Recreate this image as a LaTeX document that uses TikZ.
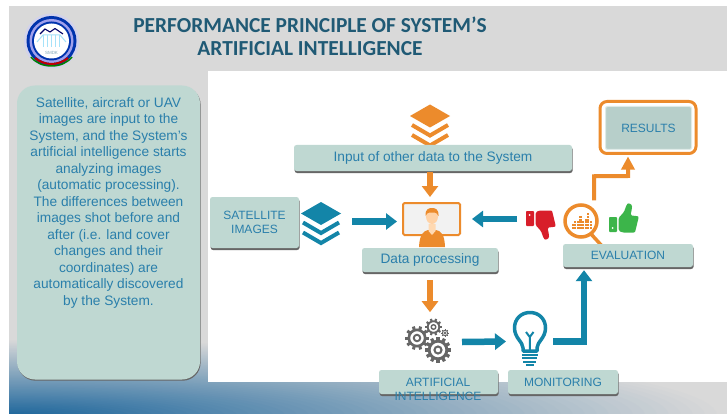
\documentclass[tikz,border=0pt]{standalone}
\usepackage{fontspec}
\setmainfont{Liberation Sans}
\newfontfamily\titlefont{Carlito}
\usetikzlibrary{arrows.meta,shadows,calc}
\definecolor{slidegray}{HTML}{D9D9D9}
\definecolor{boxfill}{HTML}{BFD8D2}
\definecolor{tealc}{HTML}{1385A8}
\definecolor{orangec}{HTML}{EC8B2C}
\definecolor{txtc}{HTML}{2A7FAB}
\definecolor{titlec}{HTML}{205A75}
\definecolor{gearc}{HTML}{666666}
\definecolor{redc}{HTML}{D81E2A}
\definecolor{greenc}{HTML}{3CB54A}
\definecolor{bluec}{HTML}{1C659B}
\tikzset{
  card/.style={draw=none,fill=boxfill,rounded corners=2.5pt,align=center,text=txtc,font=\fontsize{12}{14}\selectfont,inner sep=0pt,
    general shadow={fill=black!60,shadow xshift=0.6pt,shadow yshift=-2pt}},
  sentence/.style={font=\fontsize{13.7}{15}\selectfont},
  tealarrow/.style={draw=tealc,line width=6.5pt,-{Triangle[length=11pt,width=16pt]}},
  orangearrow/.style={draw=orangec,line width=6.5pt,-{Triangle[length=11pt,width=16pt]}},
  slim/.style={draw=orangec,line width=4pt,-{Triangle[length=13pt,width=13pt]}},
}
\newcommand{\layericon}[3]{% x, y of top-diamond centre, colour
  \begin{scope}[shift={(#1,#2)}]
    \fill[#3] (-20,0) -- (0,-11.5) -- (20,0) -- (0,11.5) -- cycle;
    \draw[#3,line width=4pt,miter limit=3] (-18,9) -- (0,19.5) -- (18,9);
    \draw[#3,line width=4pt,miter limit=3] (-18,19) -- (0,29.5) -- (18,19);
  \end{scope}}
\newcommand{\gearicon}[4]{% x, y, radius, teeth
  \begin{scope}[shift={(#1,#2)}]
    \pgfmathsetmacro{\stepang}{360/#4}
    \foreach \k in {1,...,#4}{
      \draw[gearc,line width=0.25*#3 pt] ({\k*\stepang}:0.6*#3) -- ({\k*\stepang}:#3);
    }
    \draw[gearc,fill=white,line width=0.22*#3 pt] (0,0) circle ({0.68*#3});
    \draw[gearc,fill=white,line width=0.16*#3 pt] (0,0) circle ({0.27*#3});
  \end{scope}}
\newcommand{\thumbicon}[1]{%
  \fill[#1,rounded corners=0.8pt] (609,217) rectangle (617,232);
  \fill[#1,rounded corners=1.5pt] (618.5,218) -- (624,212) -- (626.5,205) .. controls (628,203) and (632,203.5) .. (632,208) -- (630.5,215.5) -- (636.5,216) .. controls (638.5,216.5) and (638.5,218) .. (638,220) -- (635.5,230.5) .. controls (635,232) and (634,232.5) .. (632,232.5) -- (622,232.5) -- (618.5,230.5) -- cycle;
  \fill[white] (612.5,228) circle (1pt);
}
\begin{document}
\begin{tikzpicture}[x=1pt,y=-1pt]
\useasboundingbox (0,0) rectangle (727,414);
\fill[white] (0,0) rectangle (727,414);
% slide background with a glow from the lower left corner
\fill[slidegray] (9,6) rectangle (727,414);
\begin{scope}
  \clip (9,6) rectangle (727,414);
  \foreach \i in {60,59,...,1}{
    \pgfmathsetmacro{\mixv}{100-100*\i/60}
    \fill[bluec!\mixv!slidegray] (9,416) ellipse ({\i*12} and {\i*1.28});
  }
\end{scope}
\fill[white] (208,71) rectangle (727,382);
% title
\node[font=\titlefont\bfseries\fontsize{21.4}{23.5}\selectfont,text=titlec,align=center,inner sep=0pt] (title) at (310,36.5) {PERFORMANCE PRINCIPLE OF SYSTEM’S\\ARTIFICIAL INTELLIGENCE};
% logo
\fill[blue!12!white!85!gray] (51.5,41) circle (27.5);
\fill[blue!60!black!80!cyan] (51.5,41) circle (25);
\fill[blue!35!white!85!gray] (51.5,41) circle (22);
\fill[blue!60!black!80!cyan] (51.5,41) circle (19.5);
\fill[white] (51.5,41) circle (17.5);
\draw[line width=1.5pt,green!50!black] (31,57) .. controls (36,63) and (43,66) .. (51.5,66) .. controls (60,66) and (67,63) .. (72,57);
\draw[line width=2pt,red!75!black] (35,58) .. controls (40,62) and (46,64) .. (51.5,64) .. controls (57,64) and (63,62) .. (68,58);
\foreach \dx in {-8,-4,0,4,8}{\draw[cyan!35!white,line width=1pt] ({51.5+\dx},35) -- ({51.5+\dx},47);}
\draw[cyan!35!white,line width=1pt] (37,42) -- (43,35) -- (60,35) -- (66,42);
\draw[blue!40!black,line width=1.1pt] (40,34) -- (45,29) -- (50,32) -- (55,28.5) -- (63,34);
\node[font=\fontsize{4.5}{5}\selectfont,text=cyan!50!black!60!white,inner sep=0pt] (logotext) at (51.5,53) {SMDK};
% left panel
\node[draw=none,fill=boxfill,rounded corners=18pt,minimum width=183pt,minimum height=294pt,inner sep=0pt,
  general shadow={fill=black!60,shadow xshift=0.6pt,shadow yshift=-1.2pt}] (panel) at (108.5,232.5) {};
\node[text=txtc,align=center,inner sep=0pt,font=\fontsize{13.7}{16.5}\selectfont] (paneltext) at (108.5,202.5)
 {Satellite, aircraft or UAV\\images are input to the\\System, and the System’s\\artificial intelligence starts\\analyzing images\\(automatic processing).\\The differences between\\images shot before and\\after (i.e. land cover\\changes and their\\coordinates) are\\automatically discovered\\by the System.};
% layers
\layericon{430}{116}{orangec}
\layericon{321}{213.5}{tealc}
% boxes
\node[card,sentence,minimum width=278pt,minimum height=26pt] (input) at (433,158) {Input of other data to the System};
\node[card,minimum width=89pt,minimum height=51pt] (sat) at (254.5,222.5) {SATELLITE\\IMAGES};
\node[coordinate] (satlayers) at (340,221.5) {};
% monitor and person
\node[draw=orangec,line width=2pt,fill=black!5,rounded corners=1.5pt,minimum width=57pt,minimum height=32pt,inner sep=0pt] (monitor) at (431.5,219) {};
\fill[orangec] (419,247) .. controls (419.5,234) and (424,231) .. (428,230) -- (436,230) .. controls (441,231) and (444.5,234) .. (445,247) -- cycle;
\fill[orange!30!white] (428.5,224) -- (435.5,224) -- (435.5,231) -- (432,235) -- (428.5,231) -- cycle;
\fill[orange!35!white] (432,216.5) ellipse (6 and 7.5);
\fill[orangec] (425.5,216) .. controls (425,209) and (429,208) .. (432,208) .. controls (435,208) and (439,209) .. (438.5,216) .. controls (437.5,213) and (436,212.5) .. (432,212.5) .. controls (428,212.5) and (426.5,213) .. (425.5,216) -- cycle;
\node[card,sentence,minimum width=136pt,minimum height=24pt] (proc) at (430,260) {Data processing};
% gears
\gearicon{417}{338}{12}{10}
\gearicon{433.5}{327}{8.5}{10}
\gearicon{445}{333}{4}{8}
\gearicon{438}{350}{13}{12}
\node[coordinate] (gears) at (455,342) {};
% bulb
\draw[tealc,fill=white,line width=3.5pt,line join=round] (523,351) -- (523,348) .. controls (523,342) and (514.5,338) .. (514.5,328) .. controls (514.5,319) and (521,312.5) .. (530,312.5) .. controls (539,312.5) and (545.5,319) .. (545.5,328) .. controls (545.5,338) and (537,342) .. (537,348) -- (537,351) -- cycle;
\draw[tealc,line width=2pt] (529.8,350) -- (529.8,337) -- (526,332) (529.8,337) -- (533.5,332);
\foreach \yy/\hw in {354.5/8,358/7.5,361.5/6.5,365/4}{\draw[tealc,line width=2pt] ({529.8-\hw},\yy) -- ({529.8+\hw},\yy);}
\node[coordinate] (bulb) at (553,341.5) {};
\node[coordinate] (bulbleft) at (506,341.5) {};
% lower boxes
\node[card,minimum width=119pt,minimum height=24pt] (ai) at (438.5,382) {};
\node[text=txtc,align=center,inner sep=0pt,font=\fontsize{12}{14}\selectfont] (ailabel) at (438,389) {ARTIFICIAL\\INTELLIGENCE};
\node[card,minimum width=110pt,minimum height=24pt] (mon) at (563,382) {MONITORING};
% evaluation
\draw[orangec,line width=3.5pt] (591,234) -- (602,246);
\node[card,minimum width=130pt,minimum height=23pt] (eval) at (628,255.5) {EVALUATION};
\node[circle,draw=orangec,line width=3.5pt,fill=white,minimum size=32pt,inner sep=0pt] (lens) at (581,221) {};
\foreach \i/\n in {0/2,1/3,2/3,3/5,4/3,5/4,6/6,7/3}{
  \foreach \j in {1,...,\n}{
    \fill[orangec] ({571.6+\i*2.6},{229.3-\j*2.7}) rectangle ++(2.1,2.1);
  }
}
\thumbicon{greenc}
\begin{scope}[shift={(-83,443)},yscale=-1]
  \thumbicon{redc}
\end{scope}
\node[coordinate] (thumbdown) at (517,219) {};
% results
\node[draw=orangec,line width=3pt,rounded corners=7pt,minimum width=96pt,minimum height=52pt,inner sep=0pt] (resframe) at (648,127.5) {};
\node[fill=boxfill!96!black,draw=boxfill!50!white,line width=1pt,rounded corners=2pt,minimum width=86pt,minimum height=43pt,inner sep=0pt,text=txtc,font=\fontsize{12}{14}\selectfont] (results) at (648.5,128) {RESULTS};
% connectors
\draw[tealarrow] ([xshift=12pt]satlayers) -- ([xshift=-5pt,yshift=-2.5pt]monitor.west);
\draw[orangearrow] ([xshift=-3pt,yshift=-1pt]input.south) -- ([xshift=-1.5pt,yshift=5pt]monitor.north);
\draw[orangearrow] ([yshift=-8pt]proc.south) -- ([yshift=-40pt]proc.south);
\draw[tealarrow] ([xshift=7pt]gears) -- (bulbleft);
\draw[tealarrow] (bulb) -| ([xshift=-44pt,yshift=-3pt]eval.south);
\draw[tealarrow] (thumbdown) -- ([xshift=11pt]monitor.east);
\draw[slim] ([xshift=13pt,yshift=3pt]lens.north) -- ++(0,-24) -- (628,176) -- ([xshift=-20pt,yshift=-1.5pt]resframe.south);
\end{tikzpicture}
\end{document}
